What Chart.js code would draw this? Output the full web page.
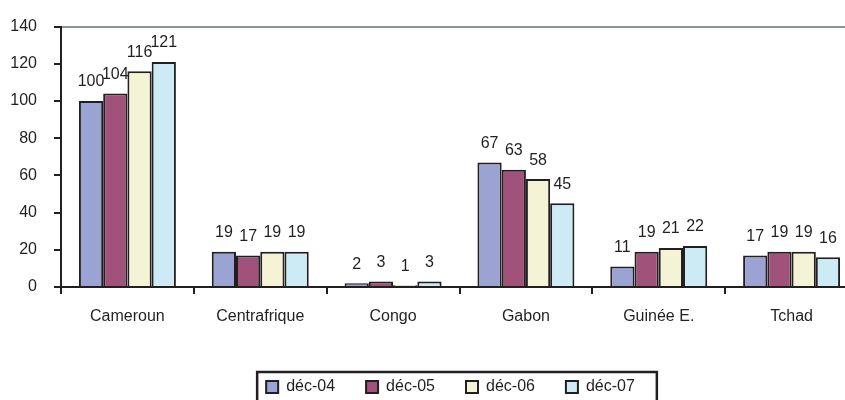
<!DOCTYPE html>
<html>
<head>
<meta charset="utf-8">
<script src="https://cdn.jsdelivr.net/npm/chart.js@4/dist/chart.umd.min.js"></script>
<style>
  html, body { margin: 0; padding: 0; background: #fff; overflow: hidden; }
  #wrap { position: relative; width: 858px; height: 405px; }
</style>
</head>
<body>
<div id="wrap"><canvas id="chart"></canvas></div>
<script>
var categories = ['Cameroun', 'Centrafrique', 'Congo', 'Gabon', 'Guinée E.', 'Tchad'];
var seriesNames = ['déc-04', 'déc-05', 'déc-06', 'déc-07'];
var dec04 = [100, 19, 2, 67, 11, 17];
var dec05 = [104, 17, 3, 63, 19, 19];
var dec06 = [116, 19, 1, 58, 21, 19];
var dec07 = [121, 19, 3, 45, 22, 16];
var yMin = 0, yMax = 140, yStep = 20;

(function () {
  var ink = '#231F20';
  var font = '"Liberation Sans", Arial, sans-serif';
  var colors = ['#9BA3D3', '#A0527A', '#F5F3D5', '#CCEBF5'];
  var values = [dec04, dec05, dec06, dec07];

  // numbers above each bar
  var valueLabels = {
    id: 'valueLabels',
    afterDatasetsDraw: function (chart) {
      var ctx = chart.ctx;
      ctx.save();
      ctx.font = '16px ' + font;
      ctx.fillStyle = ink;
      ctx.textAlign = 'center';
      ctx.textBaseline = 'bottom';
      chart.data.datasets.forEach(function (ds, i) {
        chart.getDatasetMeta(i).data.forEach(function (bar, j) {
          ctx.fillText(String(ds.data[j]), bar.x, bar.y - 11);
        });
      });
      ctx.restore();
    }
  };

  // legend sits a little left of the plot centre, inside a frame
  var legendFrame = {
    id: 'legendFrame',
    afterLayout: function (chart) {
      if (!chart.legend) return;
      chart.legend.left -= 9;
      chart.legend.right -= 9;
    },
    afterDraw: function (chart) {
      var hb = chart.legend && chart.legend.legendHitBoxes;
      if (!hb || !hb.length) return;
      var first = hb[0], last = hb[hb.length - 1];
      var cy = first.top + first.height / 2;
      var ctx = chart.ctx;
      ctx.save();
      ctx.strokeStyle = ink;
      ctx.lineWidth = 2.5;
      ctx.strokeRect(first.left - 9, cy - 15, last.left + last.width - first.left + 31, 31);
      ctx.restore();
    }
  };

  new Chart(document.getElementById('chart'), {
    type: 'bar',
    data: {
      labels: categories,
      datasets: seriesNames.map(function (name, i) {
        return {
          label: name,
          data: values[i],
          backgroundColor: colors[i],
          borderColor: ink,
          borderWidth: 2,
          categoryPercentage: 0.73,
          barPercentage: 1
        };
      })
    },
    options: {
      responsive: true,
      maintainAspectRatio: false,
      animation: false,
      layout: { padding: { top: 21, left: 10, right: 0, bottom: 0 } },
      plugins: {
        tooltip: { enabled: false },
        legend: {
          position: 'bottom',
          fullSize: false,
          labels: {
            color: ink,
            font: { size: 16, family: font },
            boxWidth: 12,
            boxHeight: 12,
            padding: 31
          }
        }
      },
      scales: {
        x: {
          grid: {
            drawOnChartArea: false,
            offset: true,
            tickLength: 7,
            tickColor: ink,
            lineWidth: 2
          },
          border: { color: ink, width: 2 },
          ticks: {
            color: ink,
            font: { size: 16, family: font },
            padding: 13,
            maxRotation: 0
          },
          afterFit: function (scale) { scale.height = 61; }
        },
        y: {
          min: yMin,
          max: yMax,
          grid: {
            color: function (c) { return c.tick && c.tick.value === yMax ? '#8A949E' : 'rgba(0,0,0,0)'; },
            tickColor: ink,
            tickLength: 7,
            lineWidth: 2
          },
          border: { color: ink, width: 2 },
          ticks: {
            stepSize: yStep,
            color: ink,
            font: { size: 16, family: font },
            padding: 17
          },
          afterFit: function (scale) { scale.width = 51; }
        }
      }
    },
    plugins: [valueLabels, legendFrame]
  });
})();
</script>
</body>
</html>
